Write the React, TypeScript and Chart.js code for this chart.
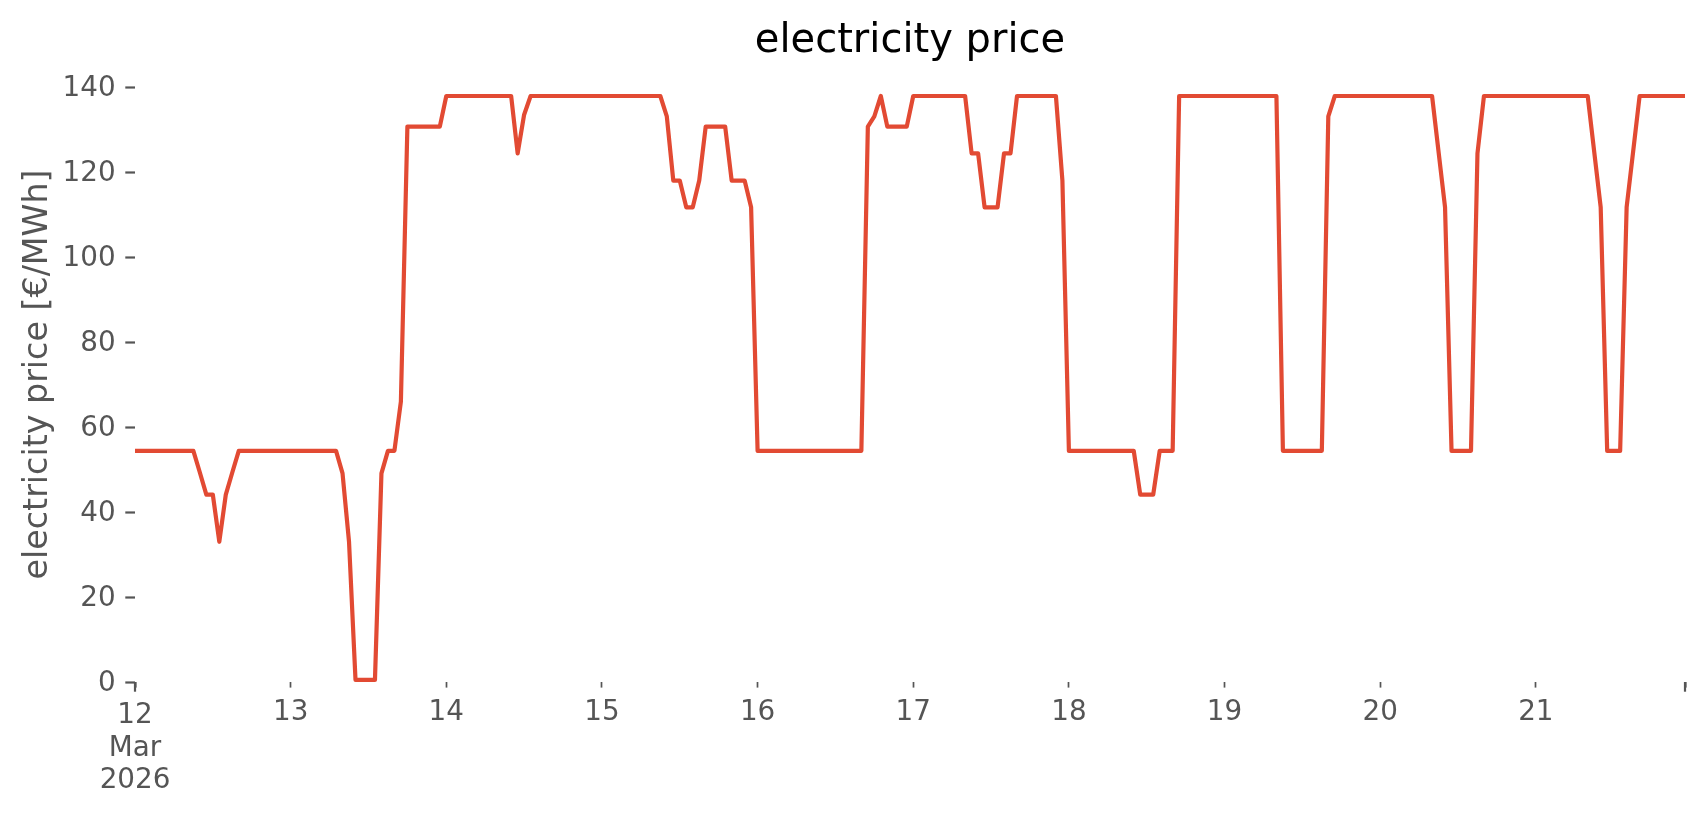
import { useEffect, useRef } from "react";
import { Chart, registerables } from "chart.js";

Chart.register(...registerables);

// Hourly electricity price, 12 Mar 2026 00:00 .. 21 Mar 2026 23:00 (€/MWh)
const PRICES: number[] = [
  // 12 Mar
  54.4, 54.4, 54.4, 54.4, 54.4, 54.4, 54.4, 54.4, 54.4, 54.4, 49.3, 44.1,
  44.1, 33.0, 44.1, 49.3, 54.4, 54.4, 54.4, 54.4, 54.4, 54.4, 54.4, 54.4,
  // 13 Mar
  54.4, 54.4, 54.4, 54.4, 54.4, 54.4, 54.4, 54.4, 49.1, 33.0, 0.5, 0.5,
  0.5, 0.5, 49.1, 54.4, 54.4, 66.0, 130.7, 130.7, 130.7, 130.7, 130.7, 130.7,
  // 14 Mar
  137.9, 137.9, 137.9, 137.9, 137.9, 137.9, 137.9, 137.9, 137.9, 137.9, 137.9, 124.4,
  133.5, 137.9, 137.9, 137.9, 137.9, 137.9, 137.9, 137.9, 137.9, 137.9, 137.9, 137.9,
  // 15 Mar
  137.9, 137.9, 137.9, 137.9, 137.9, 137.9, 137.9, 137.9, 137.9, 137.9, 133.1, 118.0,
  118.0, 111.7, 111.7, 118.0, 130.7, 130.7, 130.7, 130.7, 118.0, 118.0, 118.0, 111.7,
  // 16 Mar
  54.4, 54.4, 54.4, 54.4, 54.4, 54.4, 54.4, 54.4, 54.4, 54.4, 54.4, 54.4,
  54.4, 54.4, 54.4, 54.4, 54.4, 130.7, 133.1, 137.9, 130.7, 130.7, 130.7, 130.7,
  // 17 Mar
  137.9, 137.9, 137.9, 137.9, 137.9, 137.9, 137.9, 137.9, 137.9, 124.4, 124.4, 111.7,
  111.7, 111.7, 124.4, 124.4, 137.9, 137.9, 137.9, 137.9, 137.9, 137.9, 137.9, 118.0,
  // 18 Mar
  54.4, 54.4, 54.4, 54.4, 54.4, 54.4, 54.4, 54.4, 54.4, 54.4, 54.4, 44.1,
  44.1, 44.1, 54.4, 54.4, 54.4, 137.9, 137.9, 137.9, 137.9, 137.9, 137.9, 137.9,
  // 19 Mar
  137.9, 137.9, 137.9, 137.9, 137.9, 137.9, 137.9, 137.9, 137.9, 54.4, 54.4, 54.4,
  54.4, 54.4, 54.4, 54.4, 133.1, 137.9, 137.9, 137.9, 137.9, 137.9, 137.9, 137.9,
  // 20 Mar
  137.9, 137.9, 137.9, 137.9, 137.9, 137.9, 137.9, 137.9, 137.9, 124.8, 111.7, 54.4,
  54.4, 54.4, 54.4, 124.4, 137.9, 137.9, 137.9, 137.9, 137.9, 137.9, 137.9, 137.9,
  // 21 Mar
  137.9, 137.9, 137.9, 137.9, 137.9, 137.9, 137.9, 137.9, 137.9, 124.8, 111.7, 54.4,
  54.4, 54.4, 111.7, 124.8, 137.9, 137.9, 137.9, 137.9, 137.9, 137.9, 137.9, 137.9,
];

// x: hours since 12 Mar 2026 00:00
const HOURS: number[] = PRICES.map((_, i) => i);
const X_MIN = 0;
const X_MAX = 239;
const X_TICKS: number[] = [0, 24, 48, 72, 96, 120, 144, 168, 192, 216, 239];
const X_TICK_LABELS: (string | string[])[] = [
  ["12", "Mar", "2026"], "13", "14", "15", "16", "17", "18", "19", "20", "21", "",
];
const X_MAJOR_TICKS: number[] = [0, 239];

const Y_TICKS: number[] = [0, 20, 40, 60, 80, 100, 120, 140];
const Y_MIN = 0;
const Y_MAX = 144.77;

const TITLE = "electricity price";
const Y_LABEL = "electricity price [€/MWh]";

const LINE_COLOR = "#E24A33";
const AXIS_COLOR = "#555555";
const FONT = "'DejaVu Sans', 'Liberation Sans', sans-serif";
const TICK_SIZE = 27.8;

const isMajor = (c: any) => !!c.tick && X_MAJOR_TICKS.includes(c.tick.value);

const decorPlugin = {
  id: "decor",
  afterDraw(chart: any) {
    const { ctx, chartArea, scales } = chart;
    const xs = scales.x;
    ctx.save();
    // longer major tick marks
    ctx.strokeStyle = AXIS_COLOR;
    ctx.lineWidth = 2.2;
    for (const v of X_MAJOR_TICKS) {
      const px = xs.getPixelForValue(v);
      ctx.beginPath();
      ctx.moveTo(px, chartArea.bottom);
      ctx.lineTo(px, chartArea.bottom + 9.7);
      ctx.stroke();
    }
    // title
    ctx.fillStyle = "#000000";
    ctx.font = `40px ${FONT}`;
    ctx.textAlign = "center";
    ctx.textBaseline = "alphabetic";
    ctx.fillText(TITLE, (chartArea.left + chartArea.right) / 2, chartArea.top - 14.8);
    // y axis label
    ctx.translate(47, (chartArea.top + chartArea.bottom) / 2);
    ctx.rotate(-Math.PI / 2);
    ctx.fillStyle = AXIS_COLOR;
    ctx.font = `33.3px ${FONT}`;
    ctx.fillText(Y_LABEL, 0, 0);
    ctx.restore();
  },
};

export default function App() {
  const canvasRef = useRef<HTMLCanvasElement | null>(null);

  useEffect(() => {
    if (!canvasRef.current) return;
    Chart.defaults.font.family = FONT;
    const chart = new Chart(canvasRef.current, {
      type: "line",
      data: {
        datasets: [
          {
            label: "electricity price",
            data: PRICES.map((p, i) => ({ x: HOURS[i], y: p })),
            borderColor: LINE_COLOR,
            backgroundColor: LINE_COLOR,
            borderWidth: 4.2,
            borderJoinStyle: "round",
            pointRadius: 0,
            tension: 0,
            fill: false,
          },
        ],
      },
      options: {
        responsive: false,
        animation: false,
        devicePixelRatio: 1,
        layout: { padding: { top: 66.8, right: 21, bottom: 0, left: 0 } },
        plugins: {
          legend: { display: false },
          title: { display: false },
          tooltip: { enabled: false },
        },
        scales: {
          x: {
            type: "linear",
            min: X_MIN,
            max: X_MAX,
            afterBuildTicks: (scale: any) => {
              scale.ticks = X_TICKS.map((v) => ({ value: v }));
            },
            afterFit: (scale: any) => {
              scale.height = 133;
              scale.paddingLeft = 0;
              scale.paddingRight = 0;
            },
            border: { display: false },
            grid: {
              drawOnChartArea: false,
              drawTicks: true,
              tickLength: 5.6,
              tickColor: AXIS_COLOR,
              tickWidth: (c: any) => (isMajor(c) ? 2.2 : 1.7),
            },
            ticks: {
              autoSkip: false,
              maxRotation: 0,
              minRotation: 0,
              padding: 12.35,
              color: AXIS_COLOR,
              font: (c: any) => ({
                family: FONT,
                size: TICK_SIZE,
                lineHeight: isMajor(c) ? 32.5 / TICK_SIZE : 25.3 / TICK_SIZE,
              }),
              callback: (_v: any, i: number) => X_TICK_LABELS[i],
            },
          },
          y: {
            type: "linear",
            min: Y_MIN,
            max: Y_MAX,
            afterBuildTicks: (scale: any) => {
              scale.ticks = Y_TICKS.map((v) => ({ value: v }));
            },
            afterFit: (scale: any) => {
              scale.width = 135;
              scale.paddingTop = 0;
              scale.paddingBottom = 0;
            },
            border: { display: false },
            grid: {
              drawOnChartArea: false,
              drawTicks: true,
              tickLength: 9.7,
              tickWidth: 2.2,
              tickColor: AXIS_COLOR,
            },
            ticks: {
              padding: 9.7,
              labelOffset: 2,
              color: AXIS_COLOR,
              font: { family: FONT, size: TICK_SIZE },
              callback: (v: any) => String(v),
            },
          },
        },
      },
      plugins: [decorPlugin],
    });
    return () => chart.destroy();
  }, []);

  return (
    <div style={{ position: "absolute", left: 0, top: 0, width: 1706, height: 815, background: "#ffffff" }}>
      <canvas ref={canvasRef} width={1706} height={815} style={{ display: "block" }} />
    </div>
  );
}
